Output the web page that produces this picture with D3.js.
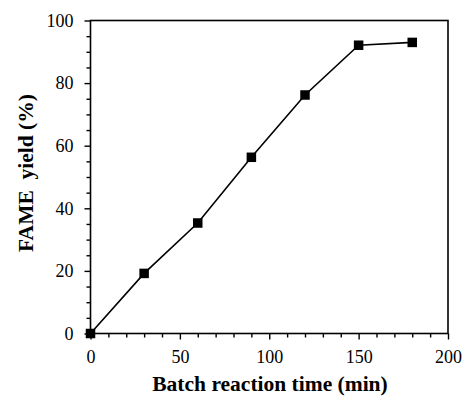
<!DOCTYPE html>
<html><head><meta charset="utf-8">
<script src="https://cdn.jsdelivr.net/npm/d3@7"></script>
<style>
body{margin:0;background:#fff}
svg{display:block}
</style></head>
<body><svg id="c" width="464" height="397"></svg>
<script>
const times = [0, 30, 60, 90, 120, 150, 180];
const yields = [0, 19.2, 35.3, 56.3, 76.2, 92.1, 93.0];
const xTicks = [0, 50, 100, 150, 200];
const yTicks = [0, 20, 40, 60, 80, 100];
const xTitle = "Batch reaction time (min)";
const yTitle = "FAME\u00a0 yield (%)";

const FONT = '"Liberation Serif", "Times New Roman", serif';
const svg = d3.select("#c");
const L = 90.5, R = 448, T = 20.5, B = 333.5;
const x = d3.scaleLinear().domain([0, 200]).range([L, R]);
const y = d3.scaleLinear().domain([0, 100]).range([B, T]);

svg.append("rect").attr("x", L).attr("y", T).attr("width", R - L).attr("height", B - T)
  .attr("fill", "none").attr("stroke", "#000").attr("stroke-width", 1.6);

const xMinor = d3.range(0, 201, 10).filter(v => v % 50 !== 0);
const yMinor = d3.range(0, 101, 5).filter(v => v % 20 !== 0);
const xAxisMinor = d3.axisBottom(x).tickValues(xMinor).tickSize(4).tickFormat("");
const yAxisMinor = d3.axisLeft(y).tickValues(yMinor).tickSize(4).tickFormat("");
const xAxis = d3.axisBottom(x).tickValues(xTicks).tickSize(6).tickPadding(11).tickFormat(d3.format("d"));
const yAxis = d3.axisLeft(y).tickValues(yTicks).tickSize(6).tickPadding(11).tickFormat(d3.format("d"));

function style(g) {
  g.attr("font-family", FONT).attr("font-size", 18);
  g.select(".domain").remove();
  g.selectAll("line").attr("stroke", "#000").attr("stroke-width", 1.4);
  g.selectAll("text").attr("fill", "#000").style("font-family", FONT).style("font-size", "18px");
}
svg.append("g").attr("transform", `translate(0,${B})`).call(xAxisMinor).call(style);
svg.append("g").attr("transform", `translate(${L},0)`).call(yAxisMinor).call(style);
svg.append("g").attr("transform", `translate(0,${B})`).call(xAxis).call(style);
svg.append("g").attr("transform", `translate(${L},0)`).call(yAxis).call(style);

const pts = times.map((t, i) => [t, yields[i]]);
svg.append("path").datum(pts)
  .attr("d", d3.line().x(d => x(d[0])).y(d => y(d[1])))
  .attr("fill", "none").attr("stroke", "#000").attr("stroke-width", 1.6);

const s = 9.5;
svg.selectAll("rect.m").data(pts).join("rect").attr("class", "m")
  .attr("x", d => x(d[0]) - s / 2).attr("y", d => y(d[1]) - s / 2)
  .attr("width", s).attr("height", s).attr("fill", "#000");

svg.append("text").attr("x", 270).attr("y", 391).attr("text-anchor", "middle")
  .style("font-family", FONT).style("font-size", "21.5px").style("font-weight", "bold").text(xTitle);
svg.append("text").attr("transform", `translate(33,173) rotate(-90)`)
  .attr("text-anchor", "middle").style("font-family", FONT)
  .style("font-size", "21.5px").style("font-weight", "bold").text(yTitle);
</script></body></html>
